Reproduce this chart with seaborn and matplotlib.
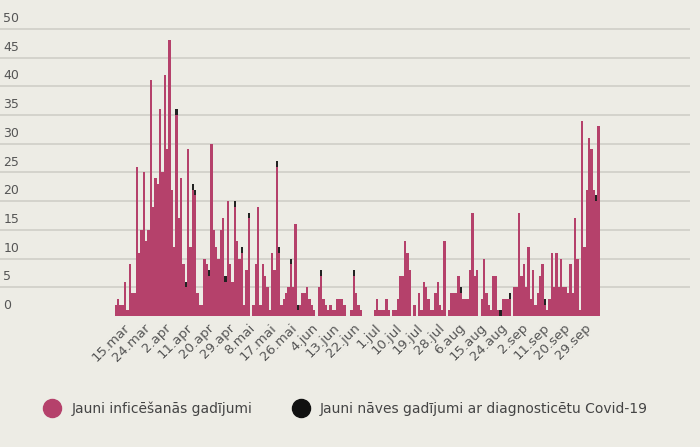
import pandas as pd
import matplotlib.pyplot as plt
import seaborn as sns
from matplotlib.lines import Line2D
from matplotlib.transforms import blended_transform_factory

# daily new cases from 12 March
cases = [2, 3, 2, 2, 6, 1, 9, 4, 4, 26, 11, 15, 25, 13, 15, 41, 19, 24, 23, 36,
         25, 42, 29, 48, 22, 12, 36, 17, 24, 9, 6, 29, 12, 23, 22, 4, 2, 2, 10, 9,
         8, 30, 15, 12, 10, 15, 17, 7, 20, 9, 6, 20, 13, 10, 12, 2, 8, 18, 0, 2,
         9, 19, 2, 9, 7, 5, 1, 11, 8, 27, 12, 2, 3, 4, 5, 10, 5, 16, 2, 2,
         4, 4, 5, 3, 2, 1, 0, 5, 8, 3, 2, 1, 2, 1, 1, 3, 3, 3, 2, 0,
         0, 1, 8, 4, 2, 1, 0, 0, 0, 0, 0, 1, 3, 1, 1, 1, 3, 1, 0, 1,
         1, 3, 7, 7, 13, 11, 8, 0, 2, 0, 4, 1, 6, 5, 3, 1, 1, 4, 6, 2,
         1, 13, 0, 1, 4, 4, 4, 7, 5, 3, 3, 3, 8, 18, 7, 8, 0, 3, 10, 4,
         2, 1, 7, 7, 1, 1, 3, 3, 3, 4, 0, 5, 5, 18, 7, 9, 5, 12, 3, 8,
         2, 4, 7, 9, 3, 1, 3, 11, 5, 11, 5, 10, 5, 5, 4, 9, 4, 17, 10, 1,
         34, 12, 22, 31, 29, 22, 21, 33]
# daily new deaths (black tips)
deaths = [0] * len(cases)
for i in [26, 30, 33, 34, 40, 47, 51, 54, 57, 69, 70, 75, 78, 88, 102, 127, 148, 165, 169, 184, 206]:
    deaths[i] = 1

tick_labels = ["15.mar", "24.mar", "2.apr", "11.apr", "20.apr", "29.apr", "8.mai",
               "17.mai", "26.mai", "4.jun", "13.jun", "22.jun", "1.jul", "10.jul",
               "19.jul", "28.jul", "6.aug", "15.aug", "24.aug", "2.sep", "11.sep",
               "20.sep", "29.sep"]
case_label = "Jauni inficēšanās gadījumi"
death_label = "Jauni nāves gadījumi ar diagnosticētu Covid-19"

day = list(range(len(cases)))
df = pd.DataFrame({
    "day": day + day,
    "count": [c - d for c, d in zip(cases, deaths)] + deaths,
    "kind": [case_label] * len(day) + [death_label] * len(day),
})

pink = "#b5416b"
bg = "#edece5"

fig = plt.figure(figsize=(7, 4.47), dpi=100, facecolor=bg)
ax = fig.add_axes([0.0, 0.293, 0.985, 0.685])
ax.set_facecolor(bg)

# seaborn stacks later hues underneath, so deaths go first to sit on top
sns.histplot(data=df, x="day", weights="count", hue="kind", multiple="stack",
             discrete=True, palette=["#222222", pink], hue_order=[death_label, case_label],
             element="bars", edgecolor="none", alpha=1, shrink=1.0, legend=False, ax=ax)

ax.set_xlim(-49.7, 246)
ax.set_ylim(0, 53.3)
for y in range(5, 55, 5):
    ax.axhline(y, color="#cfcec7", lw=1.2, zorder=0)
tr = blended_transform_factory(ax.transAxes, ax.transData)
for y in range(5, 55, 5):
    ax.text(0.005, y + 1.2, str(y), transform=tr, fontsize=9, color="#555555")
ax.text(0.005, 1.2, "0", transform=tr, fontsize=9, color="#555555")

ax.set_yticks([])
tick_pos = [3 + 9 * i for i in range(len(tick_labels))]
ax.set_xticks(tick_pos)
ax.set_xticklabels(tick_labels, rotation=45, ha="right", rotation_mode="anchor",
                   fontsize=9.5, color="#555555")
ax.tick_params(axis="x", length=0, pad=4)
ax.set_xlabel("")
ax.set_ylabel("")
for s in ax.spines.values():
    s.set_visible(False)

handles = [Line2D([], [], marker="o", ls="", markersize=13, color=pink),
           Line2D([], [], marker="o", ls="", markersize=13, color="#111111")]
fig.legend(handles, [case_label, death_label], loc="center", bbox_to_anchor=(0.49, 0.085),
           ncol=2, frameon=False, fontsize=10, labelcolor="#444444",
           handletextpad=0.4, columnspacing=2.5)

fig.savefig("out.png", dpi=100, facecolor=bg)
